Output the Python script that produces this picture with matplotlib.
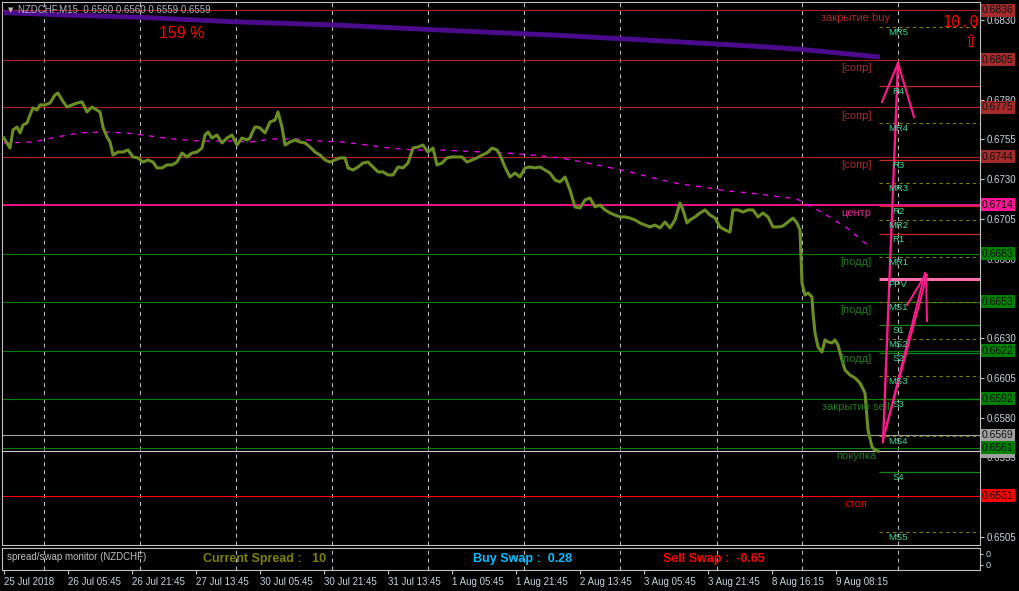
import matplotlib.pyplot as plt
from matplotlib.transforms import blended_transform_factory

plt.rcParams["font.family"] = ["Liberation Sans", "DejaVu Sans"]

# NZDCHF M15 closes (bar number from the left edge)
bars = [0, 3, 6, 9, 13, 16, 19, 23, 26, 29,
        33, 36, 41, 46, 51, 54, 58, 63, 68, 73,
        78, 83, 88, 93, 96, 99, 103, 106, 109, 114,
        119, 124, 129, 134, 139, 144, 149, 153, 158, 163,
        168, 173, 178, 183, 188, 193, 198, 201, 204, 208,
        213, 218, 223, 228, 233, 238, 243, 246, 248, 251,
        253, 256, 261, 266, 271, 274, 278, 281, 286, 291,
        296, 301, 306, 311, 316, 321, 326, 331, 336, 341,
        344, 349, 354, 359, 364, 369, 374, 379, 384, 389,
        394, 399, 404, 409, 414, 419, 424, 429, 433, 438,
        443, 448, 453, 458, 463, 468, 473, 478, 483, 488,
        493, 496, 501, 506, 511, 516, 521, 526, 531, 536,
        541, 546, 551, 556, 561, 566, 571, 576, 581, 586,
        591, 596, 601, 606, 611, 616, 621, 626, 631, 636,
        641, 646, 651, 656, 661, 666, 671, 676, 679, 683,
        686, 691, 696, 701, 706, 711, 716, 721, 726, 729,
        734, 739, 744, 749, 754, 759, 764, 769, 774, 779,
        784, 789, 793, 796, 798, 801, 804, 808, 809, 811,
        814, 818, 821, 824, 828, 831, 834, 838, 841, 846,
        851, 856, 861, 864, 868, 871, 874]
close = [0.67558, 0.67527, 0.67495, 0.67609, 0.67627, 0.67590, 0.67640, 0.67653, 0.67703, 0.67747,
         0.67734, 0.67766, 0.67766, 0.67778, 0.67829, 0.67841, 0.67797, 0.67753, 0.67766, 0.67778,
         0.67785, 0.67722, 0.67753, 0.67734, 0.67722, 0.67627, 0.67565, 0.67533, 0.67451, 0.67470,
         0.67470, 0.67483, 0.67439, 0.67433, 0.67407, 0.67420, 0.67407, 0.67370, 0.67370, 0.67389,
         0.67389, 0.67407, 0.67464, 0.67439, 0.67464, 0.67470, 0.67495, 0.67577, 0.67596, 0.67558,
         0.67577, 0.67527, 0.67558, 0.67577, 0.67514, 0.67558, 0.67546, 0.67558, 0.67590, 0.67627,
         0.67627, 0.67621, 0.67590, 0.67659, 0.67671, 0.67722, 0.67627, 0.67514, 0.67533, 0.67546,
         0.67533, 0.67527, 0.67502, 0.67470, 0.67451, 0.67420, 0.67407, 0.67420, 0.67433, 0.67433,
         0.67370, 0.67357, 0.67376, 0.67401, 0.67407, 0.67376, 0.67345, 0.67345, 0.67326, 0.67326,
         0.67376, 0.67370, 0.67401, 0.67495, 0.67502, 0.67514, 0.67470, 0.67495, 0.67389, 0.67401,
         0.67433, 0.67439, 0.67439, 0.67439, 0.67407, 0.67420, 0.67433, 0.67451, 0.67464, 0.67495,
         0.67483, 0.67451, 0.67376, 0.67313, 0.67338, 0.67313, 0.67370, 0.67376, 0.67370, 0.67376,
         0.67357, 0.67338, 0.67294, 0.67282, 0.67313, 0.67231, 0.67125, 0.67118, 0.67169, 0.67181,
         0.67125, 0.67137, 0.67106, 0.67087, 0.67074, 0.67062, 0.67062, 0.67055, 0.67043, 0.67024,
         0.67011, 0.66999, 0.67011, 0.66993, 0.67030, 0.66993, 0.67043, 0.67150, 0.67106, 0.67024,
         0.67043, 0.67062, 0.67087, 0.67106, 0.67074, 0.67055, 0.66999, 0.66980, 0.66967, 0.67106,
         0.67106, 0.67093, 0.67106, 0.67106, 0.67062, 0.67087, 0.67062, 0.66999, 0.66999, 0.67005,
         0.67030, 0.67055, 0.67024, 0.66980, 0.66647, 0.66571, 0.66584, 0.66559, 0.66458, 0.66333,
         0.66245, 0.66213, 0.66289, 0.66276, 0.66270, 0.66289, 0.66257, 0.66163, 0.66100, 0.66068,
         0.66050, 0.66018, 0.65955, 0.65723, 0.65616, 0.65597, 0.65590]

# moving averages
ma_slow_bars = [0, 63, 136, 229, 329, 446, 556, 676, 756, 796, 876]
ma_slow = [0.68346, 0.68331, 0.68317, 0.68289, 0.68269, 0.68234, 0.68203, 0.68162, 0.68133, 0.68116, 0.68067]
ma_fast_bars = [0, 29, 53, 76, 99, 123, 146, 169, 196, 229, 246, 269, 293, 316, 339, 363, 386, 409, 433,
                456, 479, 503, 529, 556, 579, 603, 626, 649, 676, 699, 723, 746, 769, 793, 819, 843, 866]
ma_fast = [0.67527, 0.67533, 0.67565, 0.67590, 0.67596, 0.67590, 0.67571, 0.67552, 0.67539, 0.67539,
           0.67533, 0.67552, 0.67552, 0.67539, 0.67533, 0.67514, 0.67495, 0.67483, 0.67483, 0.67477,
           0.67470, 0.67464, 0.67451, 0.67433, 0.67407, 0.67376, 0.67345, 0.67307, 0.67269, 0.67250,
           0.67225, 0.67213, 0.67194, 0.67175, 0.67087, 0.66993, 0.66873]

# horizontal levels with price labels
levels = [0.6836, 0.6805, 0.6775, 0.6744, 0.6714, 0.6683, 0.6653, 0.6622, 0.6592, 0.6569, 0.6559, 0.6561, 0.6531]
level_kind = ["res", "res", "res", "res", "mid", "sup", "sup", "sup", "sup", "ask", "bid", "sup", "stop"]
notes = ["закрытие buy", "[сопр]", "[сопр]", "[сопр]", "центр", "[подд]", "[подд]", "[подд]",
         "закрытие sell", "покупка", "стоп"]
note_prices = [0.6836, 0.6805, 0.6775, 0.6744, 0.6714, 0.6683, 0.6653, 0.6622, 0.6592, 0.6561, 0.6531]
note_kind = ["res", "res", "res", "res", "mid", "sup", "sup", "sup", "sup", "sup", "stop"]

# pivot levels
piv_names = ["MR5", "R4", "MR4", "R3", "MR3", "R2", "MR2", "R1", "MR1", "PPV",
             "MS1", "S1", "MS2", "S2", "MS3", "S3", "MS4", "S4", "MS5"]
piv_levels = [0.68254, 0.67883, 0.67651, 0.67418, 0.67275, 0.67129, 0.67041, 0.66953, 0.66808, 0.66672,
              0.66527, 0.66381, 0.66293, 0.66205, 0.66060, 0.65916, 0.65685, 0.65457, 0.65080]

# hand drawn arrows
arrow1_bars = [879, 887, 894]
arrow1 = [0.65647, 0.66917, 0.68030]
arrow1_head_bars = [878, 894, 910]
arrow1_head = [0.67785, 0.68030, 0.67690]
arrow2a_bars = [879, 923]
arrow2a = [0.65660, 0.66697]
arrow2b_bars = [882, 921]
arrow2b = [0.65735, 0.66710]
arrow2_head_bars = [903, 922, 923]
arrow2_head = [0.66508, 0.66705, 0.66408]

grid_bars = [40, 136, 232, 328, 424, 520, 616, 713, 798, 894]
# scale ticks; 0.6805, 0.6655 and 0.6530 sit fully under level boxes, so no text
price_ticks = [0.6505, 0.6530, 0.6555, 0.6580, 0.6605, 0.6630, 0.6655, 0.6680,
               0.6705, 0.6730, 0.6755, 0.6780, 0.6805, 0.6830]
price_tick_labels = ["0.6505", "", "0.6555", "0.6580", "0.6605", "0.6630", "", "0.6680",
                     "0.6705", "0.6730", "0.6755", "0.6780", "", "0.6830"]
time_ticks = [0, 64, 128, 192, 256, 320, 384, 448, 512, 576, 640, 704, 768, 832]
time_labels = ["25 Jul 2018", "26 Jul 05:45", "26 Jul 21:45", "27 Jul 13:45", "30 Jul 05:45",
               "30 Jul 21:45", "31 Jul 13:45", "1 Aug 05:45", "1 Aug 21:45", "2 Aug 13:45",
               "3 Aug 05:45", "3 Aug 21:45", "8 Aug 16:15", "9 Aug 08:15"]

line_col = {"res": "#b22222", "mid": "#ff1493", "sup": "#008000", "ask": "#a0a0a0",
            "bid": "#d0d0d0", "stop": "#ff0000"}
box_col = {"res": "#a52a2a", "mid": "#ff1493", "sup": "#008000", "ask": "#a0a0a0",
           "bid": "#a0a0a0", "stop": "#ff0000"}
note_col = {"res": "#b02828", "mid": "#d8288c", "sup": "#1e7a1e", "stop": "#ff0000"}
axis_txt = "#c8d4e0"
frame = "#c0c0c0"

W, H = 1020, 591
fig = plt.figure(figsize=(W / 100, H / 100), dpi=100, facecolor="black")
ax = fig.add_axes([2 / W, 1 - 545 / H, 978 / W, 543 / H], facecolor="black")
sub = fig.add_axes([2 / W, 1 - 570 / H, 978 / W, 22 / H], facecolor="black")

for a in (ax, sub):
    a.set_xlim(-2, 976)
    for s in a.spines.values():
        s.set_color(frame)
        s.set_linewidth(0.8)
    for g in grid_bars:
        a.axvline(g, color=frame, lw=0.75, ls=(0, (3.8, 3.8)), zorder=1)

ax.set_ylim(0.65000, 0.68413)
ax.set_xticks([])
ax.yaxis.tick_right()
ax.set_yticks(price_ticks)
ax.set_yticklabels(price_tick_labels)
ax.tick_params(axis="y", colors=frame, labelcolor=axis_txt, length=3, labelsize=7, pad=2)

tr = blended_transform_factory(ax.transAxes, ax.transData)

# full width levels + coloured price boxes
for p, k in zip(levels, level_kind):
    ax.axhline(p, color=line_col[k], lw=1.3 if k == "mid" else 0.8, zorder=2)
    ax.text(1 + 2 / 978, p, f"{p:.4f}", transform=tr, ha="left", va="center", fontsize=7.5,
            color="#101010", clip_on=False, zorder=8,
            bbox=dict(boxstyle="square,pad=0.14", fc=box_col[k], ec="none"))

for t, p, k in zip(notes, note_prices, note_kind):
    ax.annotate(t, (852, p), xytext=(0, -5.8), textcoords="offset points", ha="center",
                va="center", fontsize=8, color=note_col[k], zorder=5)

# pivots
for n, p in zip(piv_names, piv_levels):
    if n == "PPV":
        ax.hlines(p, 875, 976, color="#ff6fae", lw=2.2, zorder=3)
    elif n.startswith("M"):
        ax.hlines(p, 875, 976, color="#808000", lw=0.8, ls=(0, (3, 3)), zorder=3)
    elif n.startswith("R"):
        ax.hlines(p, 875, 976, color="#c82828", lw=0.9, zorder=3)
    else:
        ax.hlines(p, 875, 976, color="#0a8c0a", lw=0.9, zorder=3)
    ax.annotate(n, (894, p), xytext=(0, -3.8), textcoords="offset points", ha="center",
                va="center", fontsize=6.8, color="#3cdc96", zorder=7)

ax.plot(ma_slow_bars, ma_slow, color="#4b0b8c", lw=3.5, solid_capstyle="butt", zorder=3)
ax.plot(ma_fast_bars, ma_fast, color="#ff00ff", lw=0.9, ls=(0, (4, 5)), zorder=3)
ax.plot(bars, close, color="#6b8e23", lw=2.2, zorder=4)

pink = "#ff1a8c"
ax.plot(arrow1_bars, arrow1, color=pink, lw=1.7, zorder=6)
ax.plot(arrow1_head_bars, arrow1_head, color=pink, lw=1.5, zorder=6)
ax.plot(arrow2a_bars, arrow2a, color=pink, lw=1.4, zorder=6)
ax.plot(arrow2b_bars, arrow2b, color=pink, lw=1.4, zorder=6)
ax.plot(arrow2_head_bars, arrow2_head, color=pink, lw=1.4, zorder=6)

# chart header and extra labels
ax.text(6 / 978, 1 - 8 / 543, "\u25bc", transform=ax.transAxes, fontsize=5, color=frame,
        family="DejaVu Sans", ha="left", va="center", zorder=9)
ax.text(16 / 978, 1 - 8 / 543, "NZDCHF,M15  0.6560 0.6560 0.6559 0.6559", transform=ax.transAxes,
        fontsize=7, color="#a8b8c8", ha="left", va="center", zorder=9)
ax.text(178, 0.68218, "159 %", fontsize=11.5, color="#ff0000", ha="center", va="center", zorder=9)
ax.text(938, 0.68287, "10.0", fontsize=11, color="#ff0000", family="DejaVu Sans Mono",
        ha="left", va="center", zorder=9)
ax.text(966, 0.68162, "\u21e7", fontsize=12, color="#ff0000", family="DejaVu Sans",
        ha="center", va="center", zorder=9)

# spread / swap sub window
sub.set_ylim(0, 1)
sub.set_xticks(time_ticks)
sub.set_xticklabels(time_labels, ha="left")
sub.tick_params(axis="x", colors=frame, labelcolor=axis_txt, length=3, labelsize=7, pad=2)
sub.yaxis.tick_right()
sub.set_yticks([0.25, 0.75])
sub.set_yticklabels(["0", "0"])
sub.tick_params(axis="y", colors=frame, labelcolor=axis_txt, length=2, labelsize=6.5, pad=2)

st = blended_transform_factory(sub.transData, sub.transAxes)
sub.text(3, 0.6, "spread/swap monitor (NZDCHF)", transform=st, fontsize=7, color=frame,
         ha="left", va="center")
sub.text(199, 0.5, "Current Spread :   10", transform=st, fontsize=9, fontweight="bold",
         color="#808000", ha="left", va="center")
sub.text(469, 0.5, "Buy Swap :  0.28", transform=st, fontsize=9, fontweight="bold",
         color="#00bfff", ha="left", va="center")
sub.text(659, 0.5, "Sell Swap :  -0.65", transform=st, fontsize=9, fontweight="bold",
         color="#ff0000", ha="left", va="center")

fig.savefig("out.png", dpi=100, facecolor="black")
